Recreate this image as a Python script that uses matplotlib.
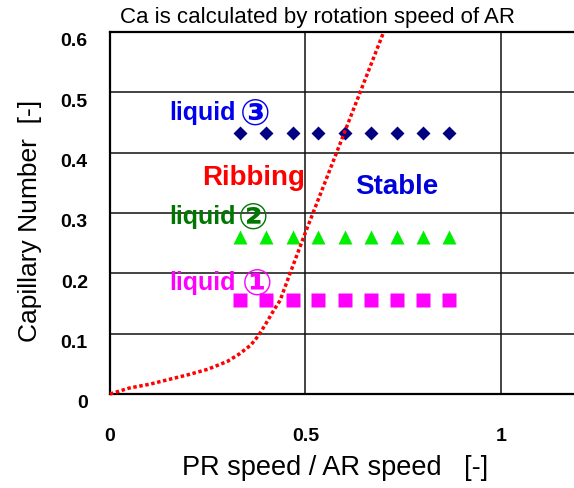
import matplotlib
matplotlib.use("Agg")
import matplotlib.pyplot as plt
from matplotlib.transforms import ScaledTranslation

plt.rcParams['font.family'] = ['Liberation Sans', 'DejaVu Sans', 'Noto Sans CJK JP']

# measured points, speed ratio PR/AR
speed_ratio = [0.333, 0.400, 0.467, 0.533, 0.600, 0.667, 0.733, 0.800, 0.867]
ca_liquid1 = [0.155] * 9
ca_liquid2 = [0.260] * 9
ca_liquid3 = [0.433] * 9

# ribbing / stable boundary (red dotted)
bound_x = [0, 0.05, 0.10, 0.15, 0.20, 0.25, 0.30, 0.33, 0.36, 0.38, 0.40, 0.42, 0.435, 0.46, 0.50, 0.60, 0.70]
bound_y = [0, 0.010, 0.016, 0.024, 0.032, 0.041, 0.054, 0.066, 0.081, 0.097, 0.118, 0.140, 0.155, 0.199, 0.268, 0.434, 0.600]

x_ticks = [0, 0.5, 1]
x_ticklabels = ["0", "0.5", "1"]
y_ticks = [0, 0.1, 0.2, 0.3, 0.4, 0.5, 0.6]
y_ticklabels = ["0", "0.1", "0.2", "0.3", "0.4", "0.5", "0.6"]

fig = plt.figure(figsize=(5.74, 4.89), dpi=100)
ax = fig.add_axes([0.1916, 0.1922, 0.8174, 0.7403])

# grid
for yv in y_ticks[1:-1]:
    ax.axhline(yv, color="#111111", lw=1.1, zorder=1)
for xv in x_ticks[1:]:
    ax.axvline(xv, color="#111111", lw=1.1, zorder=1)

ax.plot(speed_ratio, ca_liquid1, "s", color="#ff00ff", ms=10, mec="none", zorder=3)
ax.plot(speed_ratio, ca_liquid2, "^", color="#00ee00", ms=9.5, mec="none", zorder=3)
ax.plot(speed_ratio, ca_liquid3, "D", color="#000080", ms=6.8, mec="none", zorder=3)
ax.plot(bound_x, bound_y, color="#ff0000", lw=2.5, linestyle=(0, (1, 0.75)),
        dash_capstyle="butt", zorder=4, clip_on=False)

ax.set_xlim(0, 1.2)
ax.set_ylim(0, 0.6)
for s in ax.spines.values():
    s.set_linewidth(1.6)
    s.set_color("black")

ax.set_xticks(x_ticks)
ax.set_xticklabels(x_ticklabels, fontsize=14, fontweight="bold")
ax.set_yticks(y_ticks)
ax.set_yticklabels(y_ticklabels, fontsize=14, fontweight="bold")
ax.tick_params(axis="both", length=0)
ax.tick_params(axis="y", pad=16)
ax.tick_params(axis="x", pad=24)
off = ScaledTranslation(0, -5 / 72, fig.dpi_scale_trans)
for lab in ax.get_yticklabels():
    lab.set_transform(lab.get_transform() + off)

ax.set_xlabel("PR speed / AR speed   [-]", fontsize=19.5)
ax.xaxis.set_label_coords(0.48, -0.165)
ax.set_ylabel("Capillary Number  [-]", fontsize=19)
ax.yaxis.set_label_coords(-0.145, 0.48)

fig.text(318 / 574, 1 - 17 / 489, "Ca is calculated by rotation speed of AR",
         ha="center", va="center", fontsize=16)

# liquid labels: word + circled number
labels = [("③", "#0000ee", 0.468, 0.371), ("②", "#007700", 0.295, 0.365),
          ("①", "#ff00ff", 0.186, 0.376)]
for num, col, yv, xnum in labels:
    ax.text(0.321, yv, "liquid", color=col, fontsize=18, fontweight="bold",
            ha="right", va="center")
    ax.text(xnum, yv - 0.004, num, color=col, fontsize=26, fontweight="bold",
            ha="center", va="center")

ax.text(0.366, 0.36, "Ribbing", color="#ff0000", fontsize=20, fontweight="bold",
        ha="center", va="center")
ax.text(0.734, 0.345, "Stable", color="#0000dd", fontsize=20, fontweight="bold",
        ha="center", va="center")

fig.savefig("out.png", dpi=100)
